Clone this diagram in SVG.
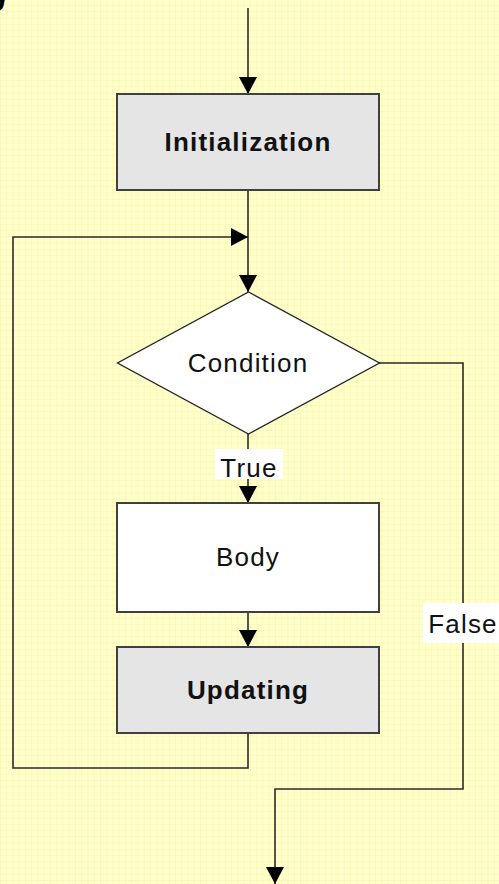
<svg xmlns="http://www.w3.org/2000/svg" width="499" height="884" viewBox="0 0 499 884">
  <defs>
    <pattern id="grid" x="0" y="-1.2" width="6.25" height="6.25" patternUnits="userSpaceOnUse">
      <path d="M0,0 H6.25 M0,0 V6.25" fill="none" stroke="#F9F2A2" stroke-width="1"/>
    </pattern>
    <marker id="arrow" viewBox="0 0 17 18" refX="17" refY="9" markerWidth="17" markerHeight="18" markerUnits="userSpaceOnUse" orient="auto">
      <path d="M0,0 L17,9 L0,18 Z" fill="#000"/>
    </marker>
    <style>
      .box { stroke: #404040; stroke-width: 2; }
      .proc { fill: #E5E5E5; }
      .plain { fill: #FFFFFF; }
      .label { font-family: "Liberation Sans", Arial, sans-serif; font-size: 26px; fill: #111; text-anchor: middle; letter-spacing: 1.2px; }
      .bold { font-weight: bold; }
      .wire { fill: none; stroke: #2A2A2A; stroke-width: 1.6; }
      .tag { fill: #FFFFFF; }
    </style>
  </defs>

  <!-- paper with grid -->
  <rect width="499" height="884" fill="#FFFFCC"/>
  <rect width="499" height="884" fill="url(#grid)"/>

  <!-- heading, mostly above the page edge -->
  <text x="-11" y="5" font-family="Liberation Sans, Arial, sans-serif" font-size="30" font-weight="bold" font-style="italic" fill="#000">g</text>

  <g id="connectors">
    <path class="wire" d="M248,8 V94" marker-end="url(#arrow)"/>
    <path class="wire" d="M248,190 V292" marker-end="url(#arrow)"/>
    <path class="wire" d="M248,733 V768 H13 V237 H248" marker-end="url(#arrow)"/>
    <path class="wire" d="M248,434 V503" marker-end="url(#arrow)"/>
    <path class="wire" d="M248,612 V647" marker-end="url(#arrow)"/>
    <path class="wire" d="M379,363 H463 V789 H275 V884" marker-end="url(#arrow)"/>
    <g id="label-true">
      <rect class="tag" x="215" y="449" width="68" height="30"/>
      <text class="label" x="249" y="477">True</text>
    </g>
    <g id="label-false">
      <rect class="tag" x="423" y="603" width="76" height="40"/>
      <text class="label" x="463" y="633">False</text>
    </g>
  </g>

  <g id="initialization">
    <rect class="box proc" x="117" y="94" width="262" height="96"/>
    <text class="label bold" x="248" y="151">Initialization</text>
  </g>

  <g id="condition">
    <polygon class="plain" points="248.5,292 379.5,363 248.5,434 117.5,363" stroke="#222" stroke-width="1.3"/>
    <text class="label" x="248" y="372">Condition</text>
  </g>

  <g id="body">
    <rect class="box plain" x="117" y="503" width="262" height="109"/>
    <text class="label" x="248" y="566">Body</text>
  </g>

  <g id="updating">
    <rect class="box proc" x="117" y="647" width="262" height="86"/>
    <text class="label bold" x="248" y="699">Updating</text>
  </g>
</svg>
